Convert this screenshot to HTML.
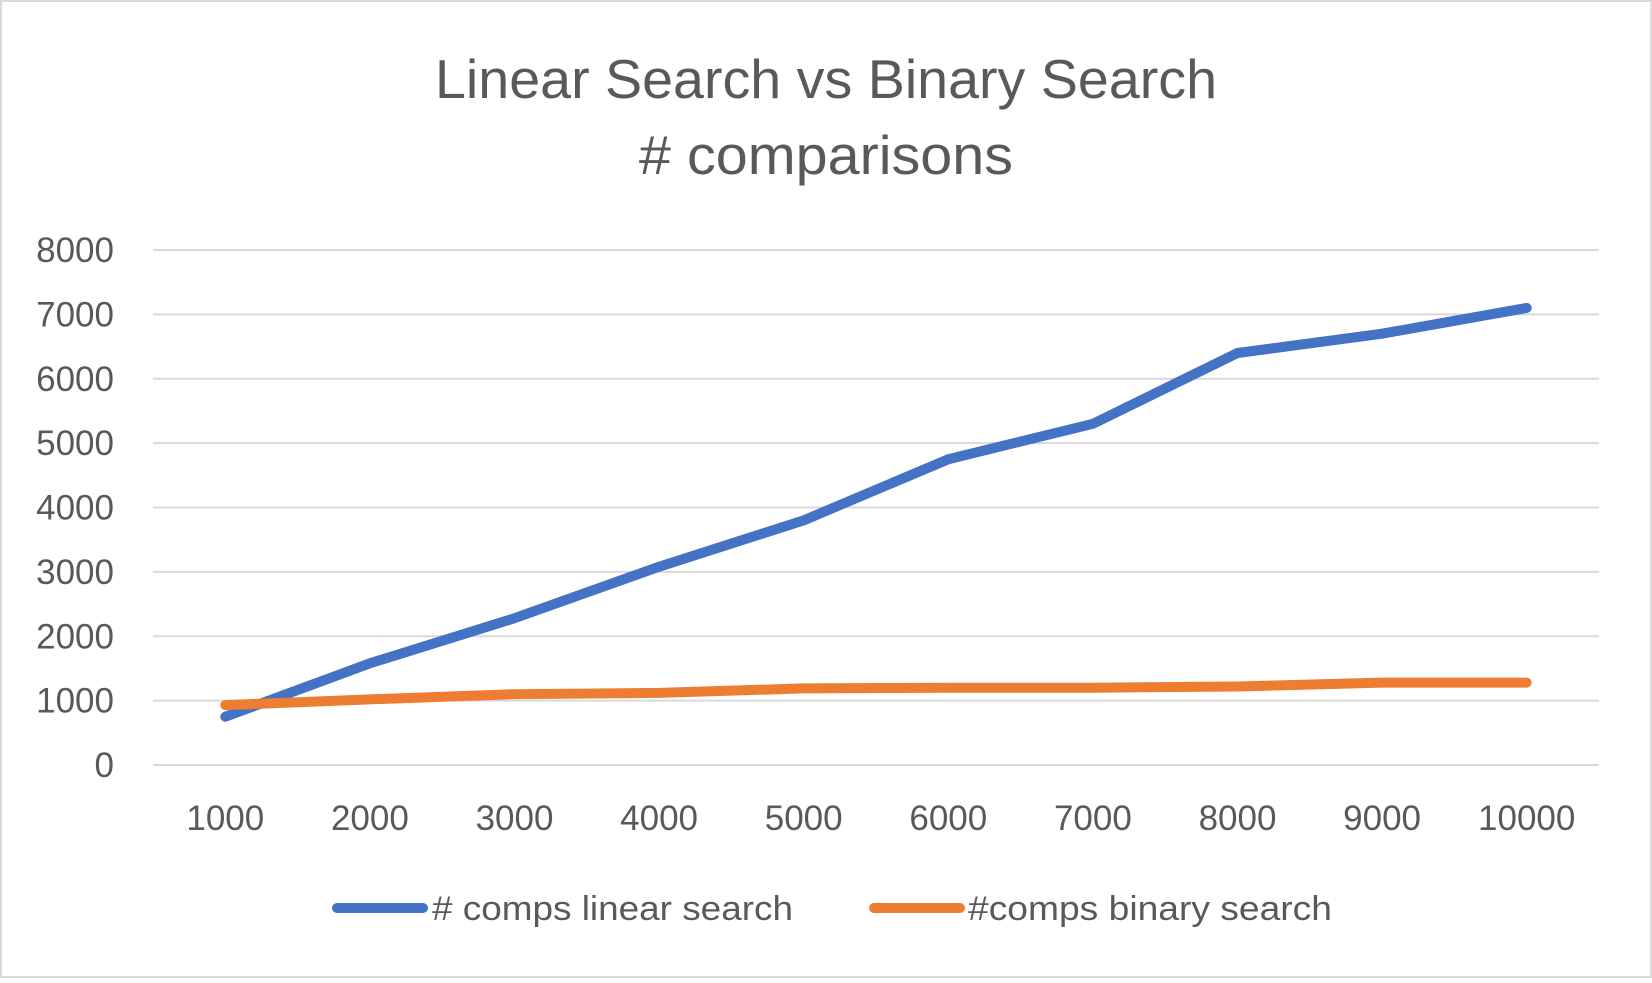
<!DOCTYPE html>
<html><head><meta charset="utf-8"><style>
html,body{margin:0;padding:0;background:#fff;}
svg text{font-family:"Liberation Sans",sans-serif;fill:#595959;}
</style></head><body>
<svg id="chart" width="1652" height="978" viewBox="0 0 1652 978" xmlns="http://www.w3.org/2000/svg">
<rect x="1" y="1" width="1650" height="976" fill="#fff" stroke="#d9d9d9" stroke-width="2"/>
<text x="826" y="98" font-size="55" text-anchor="middle" textLength="782" lengthAdjust="spacingAndGlyphs">Linear Search vs Binary Search</text>
<text x="826" y="174" font-size="55" text-anchor="middle" textLength="374" lengthAdjust="spacingAndGlyphs"># comparisons</text>
<g id="grid"></g><g id="ylabels"></g><g id="xlabels"></g><g id="series"></g>
<g>
<line x1="337" y1="908" x2="423" y2="908" stroke="#4472c4" stroke-width="10" stroke-linecap="round"/>
<text x="432" y="920" font-size="34" textLength="361" lengthAdjust="spacingAndGlyphs"># comps linear search</text>
<line x1="874" y1="908" x2="960" y2="908" stroke="#ed7d31" stroke-width="10" stroke-linecap="round"/>
<text x="968" y="920" font-size="34" textLength="364" lengthAdjust="spacingAndGlyphs">#comps binary search</text>
</g>
</svg>
<script>
const categories=["1000","2000","3000","4000","5000","6000","7000","8000","9000","10000"];
const linearValues=[750,1580,2280,3080,3800,4750,5300,6400,6700,7100];
const binaryValues=[930,1020,1100,1120,1190,1200,1200,1220,1280,1280];
const yTicks=[0,1000,2000,3000,4000,5000,6000,7000,8000];
const NS="http://www.w3.org/2000/svg";
const L=153,R=1599,T=250,B=765,yMax=8000;
const y=v=>B-(v/yMax)*(B-T);
const x=i=>L+(R-L)/categories.length*(i+0.5);
function mk(t,a,p){const e=document.createElementNS(NS,t);for(const k in a)e.setAttribute(k,a[k]);p.appendChild(e);return e;}
const g=document.getElementById('grid'),yl=document.getElementById('ylabels'),xl=document.getElementById('xlabels'),s=document.getElementById('series');
yTicks.forEach(v=>{
 const l=mk('line',{x1:L,x2:R,y1:y(v),y2:y(v),stroke:'#d9d9d9','stroke-width':2},g);
 
 
 const t=mk('text',{x:114,y:y(v)+12,'font-size':35,'text-anchor':'end'},yl);t.textContent=v;
 
 
});
categories.forEach((c,i)=>{
 const t=mk('text',{x:x(i),y:830,'font-size':35,'text-anchor':'middle'},xl);t.textContent=c;
 
 
});
function line(vals,col,name){
 const p=mk('polyline',{points:vals.map((v,i)=>x(i)+','+y(v)).join(' '),fill:'none',stroke:col,'stroke-width':10,'stroke-linecap':'round','stroke-linejoin':'round'},s);
 
 
}
line(linearValues,'#4472c4','series-linear-search');
line(binaryValues,'#ed7d31','series-binary-search');
</script>
</body></html>
